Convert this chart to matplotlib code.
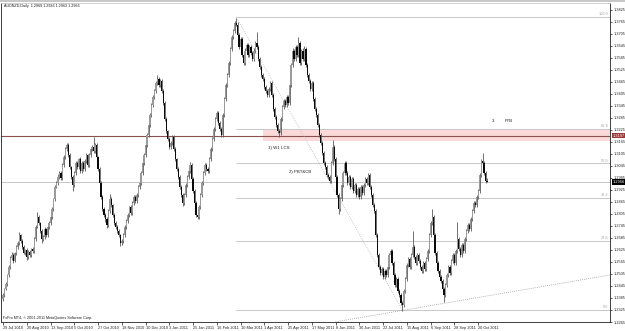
import matplotlib
matplotlib.use("Agg")
import matplotlib.pyplot as plt
import matplotlib.transforms as mtransforms
from matplotlib.patches import Rectangle
import numpy as np

plt.rcParams['font.family'] = ['Liberation Sans', 'DejaVu Sans']

# ---------------- data ----------------
closes = [
    1.2400, 1.2430, 1.2455, 1.2500, 1.2540, 1.2585, 1.2600, 1.2570, 1.2610, 1.2640,
    1.2660, 1.2700, 1.2670, 1.2640, 1.2610, 1.2625, 1.2590, 1.2615, 1.2600, 1.2630,
    1.2620, 1.2680, 1.2740, 1.2790, 1.2760, 1.2720, 1.2680, 1.2690, 1.2730, 1.2700,
    1.2740, 1.2760, 1.2790, 1.2830, 1.2880, 1.2940, 1.2960, 1.2990, 1.3010, 1.2985,
    1.3050, 1.3090, 1.3130, 1.3150, 1.3100, 1.3040, 1.2990, 1.2950, 1.3010, 1.3060,
    1.3040, 1.3080, 1.3020, 1.3060, 1.3030, 1.3070, 1.3100, 1.3050, 1.3100, 1.3130,
    1.3140, 1.3120, 1.3150, 1.3090, 1.3030, 1.2960, 1.2890, 1.2830, 1.2800, 1.2780,
    1.2750, 1.2820, 1.2880, 1.2850, 1.2800, 1.2760, 1.2740, 1.2720, 1.2700, 1.2660,
    1.2670, 1.2700, 1.2740, 1.2770, 1.2800, 1.2840, 1.2810, 1.2860, 1.2890, 1.2870,
    1.2900, 1.2940, 1.2960, 1.3010, 1.3060, 1.3100, 1.3150, 1.3200, 1.3250, 1.3300,
    1.3350, 1.3390, 1.3420, 1.3460, 1.3480, 1.3450, 1.3470, 1.3420, 1.3360, 1.3280,
    1.3220, 1.3180, 1.3140, 1.3160, 1.3190, 1.3130, 1.3080, 1.3030, 1.2990, 1.2940,
    1.2900, 1.2860, 1.2900, 1.2950, 1.2990, 1.3020, 1.3050, 1.2980, 1.2920, 1.2860,
    1.2800, 1.2790, 1.2840, 1.2900, 1.2960, 1.3010, 1.3050, 1.3030, 1.3020, 1.3080,
    1.3130, 1.3180, 1.3230, 1.3280, 1.3310, 1.3260, 1.3230, 1.3200, 1.3300, 1.3380,
    1.3450, 1.3500, 1.3560, 1.3630, 1.3690, 1.3720, 1.3760, 1.3750, 1.3700, 1.3640,
    1.3680, 1.3600, 1.3560, 1.3620, 1.3650, 1.3600, 1.3640, 1.3610, 1.3580, 1.3620,
    1.3660, 1.3640, 1.3580, 1.3540, 1.3500, 1.3480, 1.3440, 1.3420, 1.3400, 1.3430,
    1.3460, 1.3400, 1.3330, 1.3290, 1.3250, 1.3220, 1.3210, 1.3280, 1.3340, 1.3370,
    1.3350, 1.3390, 1.3360, 1.3450, 1.3550, 1.3620, 1.3580, 1.3640, 1.3600, 1.3660,
    1.3560, 1.3620, 1.3580, 1.3630, 1.3550, 1.3500, 1.3470, 1.3430, 1.3460, 1.3380,
    1.3330, 1.3300, 1.3250, 1.3200, 1.3160, 1.3110, 1.3060, 1.3040, 1.3000, 1.2990,
    1.2970, 1.3060, 1.3140, 1.3080, 1.2990, 1.2900, 1.2830, 1.2880, 1.2950, 1.3010,
    1.3060, 1.3010, 1.2960, 1.2990, 1.2940, 1.2980, 1.2920, 1.2950, 1.2900, 1.2930,
    1.2890, 1.2940, 1.2910, 1.2950, 1.2980, 1.2960, 1.3000, 1.2940, 1.2900, 1.2850,
    1.2820, 1.2700, 1.2600, 1.2540, 1.2510, 1.2530, 1.2490, 1.2520, 1.2500, 1.2540,
    1.2600, 1.2620, 1.2560, 1.2500, 1.2450, 1.2480, 1.2420, 1.2400, 1.2360, 1.2350,
    1.2420, 1.2480, 1.2550, 1.2580, 1.2540, 1.2600, 1.2640, 1.2590, 1.2560, 1.2600,
    1.2570, 1.2540, 1.2520, 1.2560, 1.2530, 1.2580, 1.2620, 1.2700, 1.2760, 1.2790,
    1.2700, 1.2610, 1.2560, 1.2520, 1.2490, 1.2470, 1.2430, 1.2400, 1.2450, 1.2500,
    1.2540, 1.2510, 1.2570, 1.2600, 1.2560, 1.2620, 1.2680, 1.2630, 1.2600, 1.2650,
    1.2620, 1.2680, 1.2720, 1.2750, 1.2730, 1.2780, 1.2820, 1.2860, 1.2850, 1.2890,
    1.2920, 1.3000, 1.3070, 1.3060, 1.3010, 1.2970, 1.2966,
]
first_open = 1.2380

# upper / lower shadows, in pips
wick_up = [
    8, 6, 10, 7, 12, 9, 15, 8, 6, 10,
    12, 14, 7, 9, 11, 6, 8, 10, 9, 7,
    12, 8, 10, 23, 9, 7, 11, 8, 10, 6,
    9, 12, 8, 10, 7, 11, 9, 13, 10, 8,
    9, 12, 10, 12, 8, 10, 7, 9, 11, 8,
    10, 7, 12, 9, 8, 11, 10, 7, 9, 12,
    8, 52, 10, 9, 7, 11, 8, 10, 9, 12,
    8, 10, 25, 9, 7, 11, 8, 10, 9, 7,
    10, 8, 12, 9, 11, 7, 10, 8, 9, 11,
    8, 10, 9, 12, 8, 11, 10, 9, 12, 8,
    10, 9, 11, 8, 21, 12, 9, 10, 8, 11,
    9, 7, 10, 11, 8, 9, 10, 7, 12, 8,
    9, 10, 12, 8, 11, 9, 14, 10, 8, 9,
    10, 7, 9, 12, 8, 10, 9, 11, 8, 10,
    9, 11, 8, 10, 12, 9, 8, 10, 9, 11,
    10, 12, 9, 11, 8, 10, 9, 25, 12, 10,
    9, 11, 8, 12, 10, 9, 11, 8, 10, 12,
    9, 55, 10, 8, 11, 9, 10, 8, 12, 9,
    11, 10, 8, 9, 12, 10, 8, 11, 9, 10,
    12, 8, 10, 11, 9, 12, 10, 8, 11, 30,
    9, 10, 12, 15, 9, 11, 8, 10, 9, 12,
    10, 8, 11, 9, 12, 8, 10, 9, 11, 8,
    10, 12, 37, 9, 11, 8, 10, 12, 9, 11,
    12, 10, 9, 11, 8, 10, 12, 9, 11, 8,
    10, 12, 9, 11, 10, 8, 12, 9, 11, 10,
    9, 12, 10, 8, 11, 9, 10, 12, 8, 11,
    10, 12, 9, 11, 8, 10, 9, 12, 8, 10,
    11, 9, 12, 10, 8, 11, 79, 10, 9, 12,
    8, 10, 11, 9, 12, 10, 8, 11, 9, 38,
    10, 12, 8, 11, 9, 10, 12, 8, 11, 9,
    10, 12, 9, 11, 8, 10, 84, 9, 11, 10,
    12, 9, 11, 10, 8, 12, 9, 11, 10, 12,
    9, 11, 10, 42, 12, 9, 16,
]
wick_down = [
    10, 8, 7, 11, 9, 12, 8, 10, 7, 9,
    11, 8, 10, 12, 7, 9, 14, 8, 10, 9,
    8, 10, 9, 7, 11, 12, 20, 9, 8, 10,
    9, 11, 8, 10, 12, 9, 7, 10, 8, 12,
    10, 8, 9, 11, 10, 12, 9, 30, 10, 8,
    9, 11, 10, 8, 12, 9, 10, 11, 8, 9,
    10, 8, 9, 12, 11, 10, 9, 8, 12, 15,
    16, 9, 10, 8, 11, 9, 10, 12, 8, 14,
    9, 10, 8, 11, 9, 10, 12, 8, 9, 11,
    10, 9, 11, 8, 12, 10, 9, 11, 8, 10,
    9, 11, 10, 8, 12, 9, 10, 11, 8, 9,
    10, 9, 12, 8, 11, 10, 9, 12, 8, 10,
    11, 17, 9, 10, 8, 12, 9, 11, 10, 9,
    10, 11, 9, 12, 8, 10, 11, 9, 10, 8,
    9, 11, 10, 8, 12, 9, 10, 8, 11, 9,
    10, 8, 11, 9, 12, 10, 9, 8, 11, 10,
    9, 12, 10, 8, 11, 9, 10, 12, 8, 9,
    11, 10, 9, 12, 8, 10, 11, 9, 12, 10,
    8, 11, 10, 9, 12, 8, 18, 10, 9, 11,
    10, 12, 8, 9, 11, 10, 9, 12, 8, 10,
    11, 9, 10, 8, 12, 10, 9, 11, 8, 10,
    9, 12, 10, 8, 11, 9, 10, 12, 8, 11,
    12, 9, 10, 11, 8, 10, 27, 9, 11, 10,
    8, 11, 10, 9, 12, 8, 10, 11, 9, 10,
    12, 9, 10, 8, 11, 10, 9, 12, 8, 10,
    11, 9, 10, 12, 8, 10, 11, 9, 12, 10,
    9, 10, 12, 8, 11, 10, 9, 12, 10, 30,
    10, 9, 11, 8, 12, 10, 9, 11, 10, 8,
    12, 9, 10, 11, 8, 10, 9, 12, 10, 9,
    11, 10, 8, 12, 9, 10, 11, 35, 10, 9,
    8, 11, 10, 9, 12, 10, 8, 11, 9, 10,
    9, 12, 10, 8, 11, 9, 10, 8, 12, 9,
    10, 8, 11, 9, 10, 12, 3,
]

date_labels = ["29 Jul 2010", "20 Aug 2010", "13 Sep 2010", "5 Oct 2010", "27 Oct 2010",
               "18 Nov 2010", "10 Dec 2010", "3 Jan 2011", "25 Jan 2011", "16 Feb 2011",
               "10 Mar 2011", "1 Apr 2011", "25 Apr 2011", "17 May 2011", "8 Jun 2011",
               "30 Jun 2011", "22 Jul 2011", "15 Aug 2011", "6 Sep 2011", "28 Sep 2011",
               "20 Oct 2011"]
date_label_bars = [0, 16, 32, 48, 64, 80, 96, 112, 128, 144, 160, 176, 192, 208, 224,
                   240, 256, 272, 288, 304, 320]

price_ticks = [1.3825, 1.3765, 1.3705, 1.3645, 1.3585, 1.3525, 1.3465, 1.3405, 1.3345,
               1.3285, 1.3225, 1.3165, 1.3105, 1.3045, 1.2985, 1.2925, 1.2865, 1.2805,
               1.2745, 1.2685, 1.2625, 1.2565, 1.2505, 1.2445, 1.2385, 1.2325, 1.2265]

title_text = "AUDNZD,Daily  1.2969 1.2986 1.2963 1.2966"
level_line = 1.3197
bid_price = 1.2966
zone_low, zone_high = 1.3168, 1.3227
zone_start_bar = 175
fib_start_bar, fib_high = 157, 1.3790
fib_end_bar, fib_low = 269, 1.2325
fib_levels = [100.0, 61.8, 50.0, 38.2, 23.6, 0.0]
trend_p1 = (224, 1.2266)
trend_p2 = (408.8, 1.2500)
annotations = [(178.5, 1.3137, "1) W1 LCS"), (192.6, 1.3013, "2) PBT&CB"),
               (329, 1.3272, "3."), (338, 1.3272, "FTB")]

# ---------------- figure ----------------
W, H = 625, 331
fig = plt.figure(figsize=(W / 100, H / 100), dpi=100)
fig.patch.set_facecolor("white")
ax = fig.add_axes([1 / W, 9 / H, 609 / W, 319 / H])
ax.set_facecolor("white")

n = len(closes)
x = np.arange(n)
c = np.array(closes)
o = np.concatenate([[first_open], c[:-1]])
hi = np.maximum(o, c) + np.array(wick_up) * 1e-4
lo = np.minimum(o, c) - np.array(wick_down) * 1e-4
up = c >= o

ax.vlines(x, lo, hi, color="#5a5a5a", lw=0.6, zorder=3)
body_h = np.abs(c - o)
body_h = np.maximum(body_h, 0.00025)
ax.bar(x[up], body_h[up], bottom=np.minimum(o, c)[up], width=0.8,
       color="#9a9a9a", linewidth=0, zorder=4)
ax.bar(x[~up], body_h[~up], bottom=np.minimum(o, c)[~up], width=0.8,
       color="#0a0a0a", linewidth=0, zorder=4)

xmin, xmax = -1.35, 408.8
ymin, ymax = 1.22707, 1.38594
ax.set_xlim(xmin, xmax)
ax.set_ylim(ymin, ymax)

# zone & lines
ax.add_patch(Rectangle((zone_start_bar, zone_low), xmax - zone_start_bar, zone_high - zone_low,
                       facecolor="#fbd9d9", edgecolor="none", zorder=1))
ax.axhline(level_line, color="#8c5050", lw=0.8, zorder=2)
ax.axhline(bid_price, color="#c4c4c4", lw=0.7, zorder=2)

rng = fib_high - fib_low
for lev in fib_levels:
    p = fib_low + rng * lev / 100.0
    ax.hlines(p, fib_start_bar, xmax, color="#c8c8c8", lw=0.7, zorder=2)
    ax.text(xmax - 1.0, p + 0.0003, f"{lev:.1f}", fontsize=2.8, color="#a8a8a8",
            ha="right", va="bottom", zorder=5)
ax.plot([fib_start_bar, fib_end_bar], [fib_high, fib_low], color="#b8b8b8",
        lw=0.6, ls=(0, (1, 1.5)), zorder=2)
ax.plot([trend_p1[0], trend_p2[0]], [trend_p1[1], trend_p2[1]], color="#9a9a9a",
        lw=0.6, ls=(0, (1, 1.5)), zorder=2)

for xa, ya, t in annotations:
    ax.text(xa, ya, t, fontsize=3.2, color="#222222", ha="left", va="center", zorder=6)

# axes styling
for s in ax.spines.values():
    s.set_color("#202020")
    s.set_linewidth(0.6)
ax.spines["top"].set_color("#c8c8c8")
ax.yaxis.tick_right()
ax.set_yticks(price_ticks)
ax.set_yticklabels([f"{p:.4f}" for p in price_ticks])
ax.tick_params(axis="y", labelsize=2.8, length=1.5, width=0.5, pad=0.8, colors="#202020")
ax.set_xticks(date_label_bars)
ax.set_xticklabels(date_labels, ha="left")
ax.tick_params(axis="x", labelsize=2.8, length=2, width=0.5, pad=1, colors="#202020")

ytr = mtransforms.blended_transform_factory(ax.transAxes, ax.transData)
ax.text(1.0045, level_line, f"{level_line:.4f}", transform=ytr, fontsize=2.8, color="white",
        ha="left", va="center", zorder=7,
        bbox=dict(boxstyle="square,pad=0.2", facecolor="#9c3a3a", edgecolor="none"))
ax.text(1.0045, bid_price, f"{bid_price:.4f}", transform=ytr, fontsize=2.8, color="white",
        ha="left", va="center", zorder=7,
        bbox=dict(boxstyle="square,pad=0.2", facecolor="black", edgecolor="none"))

fig.text(4 / W, 1 - 6 / H, title_text, fontsize=2.7, color="#202020", ha="left", va="center")
fig.text(3 / W, 1 - 318 / H, "FxPro MT4, \u00a9 2001-2011 MetaQuotes Software Corp.",
         fontsize=2.7, color="#202020", ha="left", va="center")
fig.patches.append(Rectangle((0, 1 - 2 / H), 1, 2 / H, transform=fig.transFigure,
                             facecolor="#c8c8c8", edgecolor="none"))

fig.savefig("out.png", dpi=100, facecolor="white")
